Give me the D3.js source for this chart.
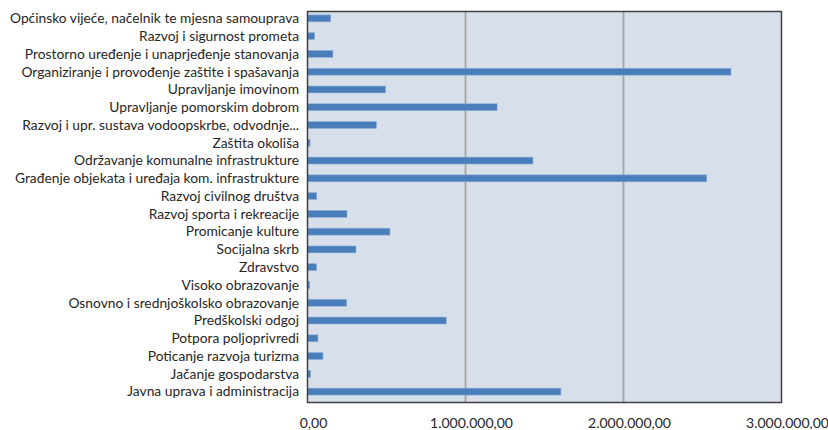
<!DOCTYPE html>
<html>
<head>
<meta charset="utf-8">
<script src="https://cdn.jsdelivr.net/npm/d3@7"></script>
<style>
  body { margin: 0; background: #fff; }
  svg { display: block; }
  .cat { font: 13.8px Lato, "Open Sans", sans-serif; fill: #262626; }
  .tick-lbl { font: 14px Lato, "Open Sans", sans-serif; fill: #262626; }
</style>
</head>
<body>
<svg width="828" height="430"></svg>
<script>
var categories = [
    "Općinsko vijeće, načelnik te mjesna samouprava",
    "Razvoj i sigurnost prometa",
    "Prostorno uređenje i unaprjeđenje stanovanja",
    "Organiziranje i provođenje zaštite i spašavanja",
    "Upravljanje imovinom",
    "Upravljanje pomorskim dobrom",
    "Razvoj i upr. sustava vodoopskrbe, odvodnje...",
    "Zaštita okoliša",
    "Održavanje komunalne infrastrukture",
    "Građenje objekata i uređaja kom. infrastrukture",
    "Razvoj civilnog društva",
    "Razvoj sporta i rekreacije",
    "Promicanje kulture",
    "Socijalna skrb",
    "Zdravstvo",
    "Visoko obrazovanje",
    "Osnovno i srednjoškolsko obrazovanje",
    "Predškolski odgoj",
    "Potpora poljoprivredi",
    "Poticanje razvoja turizma",
    "Jačanje gospodarstva",
    "Javna uprava i administracija"
];

var values = [
    147000, 45000, 161000, 2680000, 495000, 1200000, 436000, 16000,
    1427000, 2527000, 58000, 250000, 522000, 307000, 58000, 14000,
    248000, 878000, 66000, 98000, 20000, 1604000
];

var tickValues = [0, 1000000, 2000000, 3000000];
var tickLabels = ["0,00", "1.000.000,00", "2.000.000,00", "3.000.000,00"];

var svg = d3.select("svg"),
    plot = { left: 307.5, right: 781.5, top: 11.5, bottom: 402.5 };

var xScale = d3.scaleLinear().domain([0, 3000000]).range([plot.left, plot.right]),
    yScale = d3.scaleBand().domain(categories)
        .range([plot.top - 2, plot.bottom - 2])
        .paddingInner(0.61).paddingOuter(0.305);

// plot background
svg.append("rect")
    .attr("x", plot.left)
    .attr("y", plot.top)
    .attr("width", plot.right - plot.left)
    .attr("height", plot.bottom - plot.top)
    .attr("fill", "#d7e0ea");

// vertical gridlines
svg.selectAll(".grid")
    .data(tickValues.slice(1, 3))
    .enter().append("line")
    .attr("class", "grid")
    .attr("x1", function (d) { return xScale(d); })
    .attr("x2", function (d) { return xScale(d); })
    .attr("y1", plot.top)
    .attr("y2", plot.bottom)
    .attr("stroke", "#a6a6a6")
    .attr("stroke-width", 1.8);

// bars
svg.selectAll(".bar")
    .data(values)
    .enter().append("rect")
    .attr("class", "bar")
    .attr("x", xScale(0))
    .attr("y", function (d, i) { return yScale(categories[i]); })
    .attr("width", function (d) { return xScale(d) - xScale(0); })
    .attr("height", yScale.bandwidth())
    .attr("fill", "#4a7ebb")
    .attr("stroke", "#8fb0d8")
    .attr("stroke-width", 0.6);

// plot border
svg.append("rect")
    .attr("x", plot.left)
    .attr("y", plot.top)
    .attr("width", plot.right - plot.left)
    .attr("height", plot.bottom - plot.top)
    .attr("fill", "none")
    .attr("stroke", "#404040")
    .attr("stroke-width", 1.5);

// category labels
svg.selectAll(".cat")
    .data(categories)
    .enter().append("text")
    .attr("class", "cat")
    .attr("x", plot.left - 8.5)
    .attr("y", function (d) { return yScale(d) + yScale.bandwidth() / 2; })
    .attr("dy", "0.35em")
    .attr("text-anchor", "end")
    .text(function (d) { return d; });

// x tick labels
svg.selectAll(".tick-lbl")
    .data(tickValues)
    .enter().append("text")
    .attr("class", "tick-lbl")
    .attr("x", function (d) { return xScale(d) + 6; })
    .attr("y", 423)
    .attr("dy", "0.35em")
    .attr("text-anchor", "middle")
    .text(function (d, i) { return tickLabels[i]; });
</script>
</body>
</html>
